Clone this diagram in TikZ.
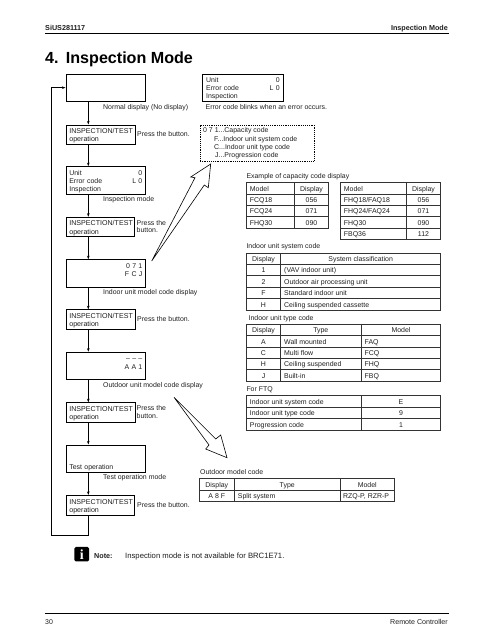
\documentclass[tikz,border=0pt]{standalone}
\usepackage{fontspec}
\setmainfont{Liberation Sans}
\usetikzlibrary{arrows.meta}
\definecolor{ink}{HTML}{1E1E1E}
\newcounter{cellno}
\newcommand{\cellc}[3]{\stepcounter{cellno}\node[tcellc] (cell\arabic{cellno}) at (#1,#2) {#3};}
\newcommand{\celll}[3]{\stepcounter{cellno}\node[tcelll] (cell\arabic{cellno}) at (#1,#2) {#3};}
\newcommand{\lnst}{\rule[-0.8pt]{0pt}{8.25pt}}
\tikzset{
  basefont/.style={font=\fontsize{6.95}{8.25}\selectfont, text=ink},
  dispbox/.style={basefont, draw=black, line width=0.85pt, anchor=north west, inner xsep=3.4pt, inner ysep=0pt, align=left},
  dottedbox/.style={draw=black, line width=0.85pt, densely dotted, anchor=north west, inner sep=0pt},
  dottedtext/.style={basefont, anchor=north west, inner sep=0pt, align=left},
  lab/.style={basefont, anchor=west, inner sep=0pt, text height=6.5pt, text depth=1.5pt},
  twolab/.style={basefont, anchor=north west, inner sep=0pt, align=left, font=\fontsize{6.95}{7.7}\selectfont},
  tcellc/.style={basefont, anchor=center, inner sep=0pt, text height=6.5pt, text depth=1.5pt},
  tcelll/.style={basefont, anchor=west, inner sep=0pt, text height=6.5pt, text depth=1.5pt},
  flow/.style={draw=black, line width=0.65pt, -{Stealth[length=3.6pt,width=2.6pt]}},
  tabgrid/.style={draw=black!80, line width=0.85pt},
  rulel/.style={draw=black, line width=0.8pt},
  blockarrow/.style={draw=black, line width=0.6pt, line join=miter, fill=white},
  head/.style={font=\fontsize{7.2}{8.5}\selectfont\bfseries, text=ink, inner sep=0pt, text height=5.2pt, text depth=0pt},
  titlet/.style={font=\fontsize{16.1}{18}\selectfont\bfseries, text=black, inner sep=0pt, anchor=west, text height=11.5pt, text depth=3.4pt},
}
\newcommand{\trio}[3]{\lnst #1\\\lnst #2\\\lnst #3}
\newcommand{\optext}{\fontsize{7.1}{8.25}\selectfont\lnst INSPECTION/TEST\\\lnst operation}
\begin{document}
\begin{tikzpicture}[x=1pt,y=-1pt]
\useasboundingbox (0,0) rectangle (493,640);
% header
\node[head, anchor=west] (hl) at (45,28) {SiUS281117};
\node[head, anchor=east] (hr) at (448,28) {Inspection Mode};
\draw[rulel] (45,33.3) -- (449,33.3);
\node[titlet] (t1) at (45,59.25) {4.};
\node[titlet] (t2) at (65.7,59.25) {Inspection Mode};
% flow boxes
\node[dispbox, text width=73pt, minimum height=27.5pt] (b1) at (65.5,73.5) {\trio{}{}{}};
\node[dispbox, text width=62.2pt, minimum height=19pt] (i1) at (65.5,124.5) {\optext};
\node[dispbox, text width=73pt, minimum height=27.5pt] (b2) at (65.5,166.2) {\trio{Unit\hfill 0}{Error code\hfill L 0}{Inspection}};
\node[dispbox, text width=62pt, minimum height=19.5pt] (i2) at (65.5,216.8) {\optext};
\node[dispbox, text width=73pt, minimum height=27.5pt] (b3) at (65.5,259.3) {\trio{\hfill 0 7 1}{\hfill F C J}{}};
\node[dispbox, text width=62.2pt, minimum height=19.5pt] (i3) at (65.5,309.4) {\optext};
\node[dispbox, text width=73pt, minimum height=27.5pt] (b4) at (65.5,351.7) {\trio{\hfill – – –}{\hfill A A 1}{}};
\node[dispbox, text width=62.2pt, minimum height=19.5pt] (i4) at (65.5,402.3) {\optext};
\node[dispbox, text width=73pt, minimum height=27.5pt] (b5) at (65.5,444.5) {\trio{}{}{Test operation}};
\node[dispbox, text width=62pt, minimum height=19.5pt] (i5) at (65.5,495) {\optext};
\node[dispbox, text width=73.6pt, minimum height=27.5pt] (b6) at (202.3,73.5) {\trio{Unit\hfill 0}{Error code\hfill L 0}{Inspection}};
\node[dottedbox, minimum width=114.5pt, minimum height=36pt] (d1) at (199.5,124.5) {};
\node[dottedtext] (d2) at (203,127) {\strut 0 7 1...Capacity code\\\strut\hspace{11pt}F...Indoor unit system code\\\strut\hspace{11pt}C...Indoor unit type code\\\strut\hspace{12pt}J...Progression code};
% flow connectors
\coordinate (spine) at (88.3,0);
\coordinate (rail) at (51.5,535.3);
\draw[flow] (b1.south -| spine) -- (i1.north -| spine);
\draw[flow] (i1.south -| spine) -- (b2.north -| spine);
\draw[flow] (b2.south -| spine) -- (i2.north -| spine);
\draw[flow] (i2.south -| spine) -- (b3.north -| spine);
\draw[flow] (b3.south -| spine) -- (i3.north -| spine);
\draw[flow] (i3.south -| spine) -- (b4.north -| spine);
\draw[flow] (b4.south -| spine) -- (i4.north -| spine);
\draw[flow] (i4.south -| spine) -- (b5.north -| spine);
\draw[flow] (b5.south -| spine) -- (i5.north -| spine);
\draw[flow] (i5.south -| spine) -- (spine |- rail) -- (rail) -- (rail |- b1.west) -- (b1.west);
% labels
\node[lab] (l1) at (103,106.6) {Normal display (No display)};
\node[lab] (l2) at (137,133.8) {Press the button.};
\node[lab] (l3) at (205.5,106.7) {Error code blinks when an error occurs.};
\node[lab] (l4) at (103,199) {Inspection mode};
\node[twolab] (l5) at (136.5,220) {Press the\\button.};
\node[lab] (l6) at (103,291.7) {Indoor unit model code display};
\node[lab] (l7) at (137,319) {Press the button.};
\node[lab] (l8) at (103,384.7) {Outdoor unit model code display};
\node[twolab] (l9) at (136.5,405.6) {Press the\\button.};
\node[lab] (l10) at (103,477.3) {Test operation mode};
\node[lab] (l11) at (137,504.7) {Press the button.};
% block arrows
\draw[blockarrow] (151.7,261) -- (195,177.7) -- (190.7,177) -- (210.7,164) -- (208.3,187.7) -- (204.3,185) -- cycle;
\draw[blockarrow] (174,397.3) -- (215.7,439) -- (220.7,435) -- (227,457.7) -- (205.7,449) -- (209,445) -- cycle;
% capacity tables
\node[lab] (c0) at (246.3,176) {Example of capacity code display};
\draw[tabgrid] (246.3,182.3) rectangle (328.7,228);
\foreach \yy in {194,205.6,216.8} \draw[tabgrid] (246.3,\yy) -- (328.7,\yy);
\draw[tabgrid] (294.3,182.3) -- (294.3,228);
\celll{249.7}{188.5}{Model}\cellc{311.5}{188.5}{Display}
\celll{249.7}{200}{FCQ18}\cellc{311.5}{200}{056}
\celll{249.7}{211.3}{FCQ24}\cellc{311.5}{211.3}{071}
\celll{249.7}{222.6}{FHQ30}\cellc{311.5}{222.6}{090}
\draw[tabgrid] (340.3,182.3) rectangle (440.7,239.6);
\foreach \yy in {194,205.6,216.8,228} \draw[tabgrid] (340.3,\yy) -- (440.7,\yy);
\draw[tabgrid] (406.3,182.3) -- (406.3,239.6);
\celll{343.7}{188.5}{Model}\cellc{423.5}{188.5}{Display}
\celll{343.7}{200}{FHQ18/FAQ18}\cellc{423.5}{200}{056}
\celll{343.7}{211.3}{FHQ24/FAQ24}\cellc{423.5}{211.3}{071}
\celll{343.7}{222.6}{FHQ30}\cellc{423.5}{222.6}{090}
\celll{343.7}{234}{FBQ36}\cellc{423.5}{234}{112}
% system code table
\node[lab] (c1) at (246.3,246.2) {Indoor unit system code};
\draw[tabgrid] (246.3,253) rectangle (440.7,310);
\foreach \yy in {264.4,275.8,287.2,298.6} \draw[tabgrid] (246.3,\yy) -- (440.7,\yy);
\draw[tabgrid] (280.7,253) -- (280.7,310);
\cellc{263.5}{259.2}{Display}\cellc{360.7}{259.2}{System classification}
\cellc{263.5}{270.4}{1}\celll{284}{270.4}{(VAV indoor unit)}
\cellc{263.5}{281.8}{2}\celll{284}{281.8}{Outdoor air processing unit}
\cellc{263.5}{293.2}{F}\celll{284}{293.2}{Standard indoor unit}
\cellc{263.5}{304.6}{H}\celll{284}{304.6}{Ceiling suspended cassette}
% type code table
\node[lab] (c2) at (248.5,317.5) {Indoor unit type code};
\draw[tabgrid] (246.3,324.3) rectangle (440.7,381);
\foreach \yy in {335.7,347,358.3,369.7} \draw[tabgrid] (246.3,\yy) -- (440.7,\yy);
\foreach \xx in {280.7,361} \draw[tabgrid] (\xx,324.3) -- (\xx,381);
\cellc{263.5}{330.4}{Display}\cellc{320.8}{330.4}{Type}\cellc{401}{330.4}{Model}
\cellc{263.5}{341.7}{A}\celll{284}{341.7}{Wall mounted}\celll{364.5}{341.7}{FAQ}
\cellc{263.5}{353}{C}\celll{284}{353}{Multi flow}\celll{364.5}{353}{FCQ}
\cellc{263.5}{364.3}{H}\celll{284}{364.3}{Ceiling suspended}\celll{364.5}{364.3}{FHQ}
\cellc{263.5}{375.7}{J}\celll{284}{375.7}{Built-in}\celll{364.5}{375.7}{FBQ}
% FTQ table
\node[lab] (c3) at (246.3,388.8) {For FTQ};
\draw[tabgrid] (246.3,395.7) rectangle (440.7,430);
\foreach \yy in {407.3,418.7} \draw[tabgrid] (246.3,\yy) -- (440.7,\yy);
\draw[tabgrid] (361,395.7) -- (361,430);
\celll{249.7}{401.8}{Indoor unit system code}\cellc{401}{401.8}{E}
\celll{249.7}{413.3}{Indoor unit type code}\cellc{401}{413.3}{9}
\celll{249.7}{424.6}{Progression code}\cellc{401}{424.6}{1}
% outdoor table
\node[lab] (c4) at (200,471.5) {Outdoor model code};
\draw[tabgrid] (199.3,478.7) rectangle (394.7,501);
\draw[tabgrid] (199.3,490) -- (394.7,490);
\foreach \xx in {234.3,340} \draw[tabgrid] (\xx,478.7) -- (\xx,501);
\cellc{216.8}{484.6}{Display}\cellc{287.2}{484.6}{Type}\cellc{367.3}{484.6}{Model}
\cellc{216.8}{496}{A 8 F}\celll{237.7}{496}{Split system}\celll{343}{496}{RZQ-P, RZR-P}
% note
\node[fill=black, rounded corners=1.5pt, minimum width=14.7pt, minimum height=14.5pt, inner sep=0pt, text=white, font=\fontspec{Liberation Serif}\fontsize{14}{14}\selectfont\bfseries] (ic) at (81.7,554.2) {i};
\node[lab, font=\fontsize{7.2}{8.5}\selectfont\bfseries] (n1) at (94,556.2) {Note:};
\node[lab, font=\fontsize{7.7}{8.5}\selectfont] (n2) at (125,556.2) {Inspection mode is not available for BRC1E71.};
% footer
\draw[rulel] (45,613) -- (449,613);
\node[lab] (f1) at (45,621.7) {30};
\node[lab, anchor=east, font=\fontsize{7.1}{8.5}\selectfont] (f2) at (448,621.7) {Remote Controller};
\end{tikzpicture}
\end{document}
